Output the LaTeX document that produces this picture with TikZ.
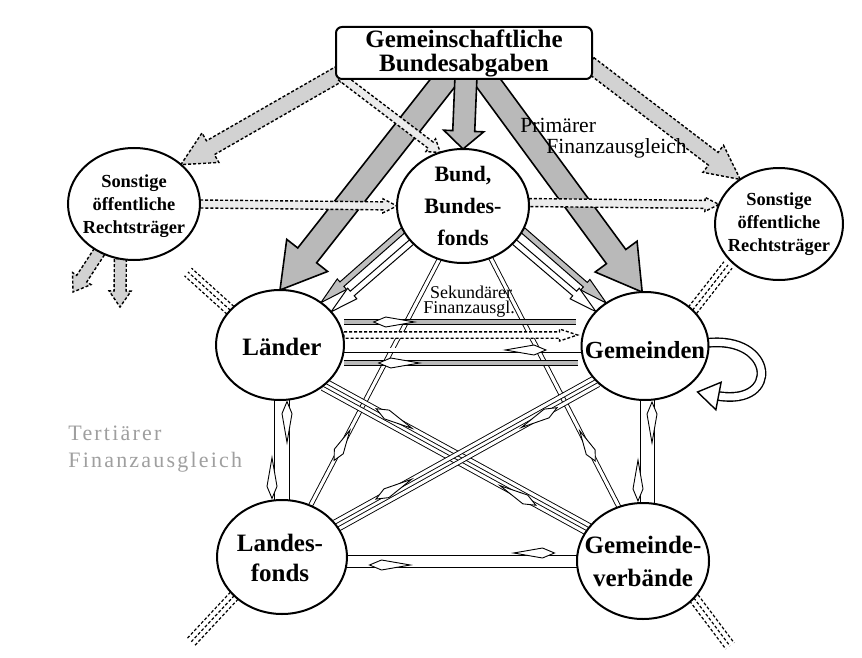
\documentclass[tikz,border=0pt]{standalone}
\usepackage{fontspec}
\setmainfont{Liberation Serif}
\newfontfamily\tertfont[LetterSpace=10]{Liberation Serif}
\usetikzlibrary{calc,shapes.geometric}
\pgfdeclarelayer{background}
\pgfsetlayers{background,main}

% broad arrow: [style]{from}{to}{half shaft}{half head}{head length}
\newcommand\fatarrow[6][]{%
  \coordinate (fa-h) at ($(#3)!#6!(#2)$);
  \draw[#1] ($(#2)!#4!90:(#3)$) -- ($(fa-h)!#4!90:(#3)$) -- ($(fa-h)!#5!90:(#3)$) -- (#3)
    -- ($(fa-h)!#5!-90:(#3)$) -- ($(fa-h)!#4!-90:(#3)$) -- ($(#2)!#4!-90:(#3)$) -- cycle;}
% marker on a line: [fill]{from}{to}{pos}{tip length}{half width}, pointing to "to"
\newcommand\spindle[6][white]{%
  \coordinate (sp-c) at ($(#2)!#4!(#3)$);
  \draw[fill=#1, line width=0.45pt] ($(sp-c)!#5!(#3)$) -- ($(sp-c)!#6!90:(#3)$)
    -- ($(sp-c)!2.4*#5!180:(#3)$) -- ($(sp-c)!#6!-90:(#3)$) -- cycle;}
% offset end points of a line
\newcommand\offpts[7]{%
  \coordinate (#6) at ($(#1)!#3!#4:(#2)$);
  \coordinate (#7) at ($(#2)!#3!#5:(#1)$);}
% three dashed parallel lines
\newcommand\tristub[2]{%
  \draw[stub] (#1) -- (#2);
  \draw[stub] ($(#1)!2.6pt!90:(#2)$) -- ($(#2)!2.6pt!-90:(#1)$);
  \draw[stub] ($(#1)!2.6pt!-90:(#2)$) -- ($(#2)!2.6pt!90:(#1)$);}

\begin{document}
\begin{tikzpicture}[x=0.5pt,y=-0.5pt,
  ell/.style={ellipse, draw, line width=1pt, fill=white, inner sep=0pt, outer sep=0pt},
  hollow/.style={draw=black, line width=0.45pt, double=white, double distance=1.6pt},
  graybar/.style={draw=black, line width=0.45pt, double=gray!55, double distance=2.2pt},
  primary/.style={draw=black, line width=0.8pt, fill=gray!55},
  dotarrow/.style={draw=black, line width=0.7pt, dash pattern=on 1.5pt off 1pt, fill=gray!35},
  smallarr/.style={draw=black, line width=0.5pt, fill=gray!50},
  stub/.style={draw=black, line width=0.6pt, dash pattern=on 1.5pt off 1pt},
  boldtext/.style={align=center, inner sep=0pt}
]
\useasboundingbox (0,0) rectangle (862,658);

% ---------- nodes ----------
\node[draw, line width=1pt, rounded corners=3pt, fill=white, minimum width=128pt,
      minimum height=26pt, inner sep=0pt, align=center,
      font=\bfseries\fontsize{12.5}{12}\selectfont] (top) at (464,53) {Gemeinschaftliche\\Bundesabgaben};

\node[ell, minimum width=66pt, minimum height=57pt] (bund) at (463,206) {};
\node[boldtext, font=\bfseries\fontsize{11}{16}\selectfont] (bund-t) at (463,206) {Bund,\\Bundes-\\fonds};

\node[ell, minimum width=66pt, minimum height=56pt] (sl) at (134,204) {};
\node[boldtext, font=\bfseries\fontsize{9.2}{11.5}\selectfont] (sl-t) at (134,206) {Sonstige\\öffentliche\\Rechtsträger};

\node[ell, minimum width=64pt, minimum height=56pt] (sr) at (779,224) {};
\node[boldtext, font=\bfseries\fontsize{9.2}{11.5}\selectfont] (sr-t) at (779,224) {Sonstige\\öffentliche\\Rechtsträger};

\node[ell, minimum width=64pt, minimum height=55pt] (laender) at (280,345) {};
\node[boldtext, font=\bfseries\fontsize{12.5}{15}\selectfont] (laender-t) at (282,347) {Länder};

\node[ell, minimum width=63.5pt, minimum height=54pt] (gemeinden) at (645,346) {};
\node[boldtext, font=\bfseries\fontsize{12.3}{15}\selectfont] (gemeinden-t) at (645,350) {Gemeinden};

\node[ell, minimum width=65pt, minimum height=57pt] (lf) at (282,557) {};
\node[boldtext, font=\bfseries\fontsize{12.5}{15}\selectfont] (lf-t) at (280,558) {Landes-\\fonds};

\node[ell, minimum width=66pt, minimum height=58pt] (gv) at (643,561) {};
\node[boldtext, font=\bfseries\fontsize{12.5}{16.5}\selectfont] (gv-t) at (643,561) {Gemeinde-\\verbände};

\node[anchor=west, inner sep=0pt, font=\fontsize{10.8}{12}\selectfont] (prim1) at (520,125) {Primärer};
\node[anchor=west, inner sep=0pt, font=\fontsize{10.8}{12}\selectfont] (prim2) at (546,148) {Finanzausgleich};
\node[inner sep=0pt, font=\fontsize{9}{9}\selectfont] (sek1) at (471,292) {Sekundärer};
\node[inner sep=0pt, font=\fontsize{9}{9}\selectfont] (sek2) at (469,309) {Finanzausgl.};
\node[anchor=west, inner sep=0pt, text=gray!75, font=\tertfont\fontsize{11}{12}\selectfont] (ter1) at (68,433) {Tertiärer};
\node[anchor=west, inner sep=0pt, text=gray!75, font=\tertfont\fontsize{11}{12}\selectfont] (ter2) at (68,462) {Finanzausgleich};

% ---------- connectors ----------
\begin{pgfonlayer}{background}
\fill[white] (0,0) rectangle (862,658);

% primary (broad gray arrows)
\coordinate (p-l) at ($(top.south)+(-8,-14)$);
\coordinate (p-r) at ($(top.south)+(12,-14)$);
\fatarrow[primary]{p-l}{laender.north}{6pt}{13pt}{22pt}
\fatarrow[primary]{p-r}{gemeinden.93}{6pt}{13pt}{22pt}
\coordinate (p-c) at ($(top.south)+(2,-4)$);
\fatarrow[primary]{p-c}{bund.north}{5.5pt}{10pt}{9pt}

% dotted arrows from the top box
\coordinate (d-l) at ($(top.south west)+(4,-6)$);
\fatarrow[dotarrow]{d-l}{sl.40}{4pt}{8.5pt}{17pt}
\coordinate (d-r) at ($(top.south east)+(-4,-16)$);
\fatarrow[dotarrow]{d-r}{sr.131}{4pt}{8.5pt}{17pt}
\coordinate (d-b) at ($(top.south west)+(6,-3)$);
\fatarrow[dotarrow, fill=gray!15]{d-b}{bund.113}{2pt}{4pt}{6pt}

% horizontal dotted arrows
\fatarrow[dotarrow, fill=gray!15]{sl.east}{bund.west}{2pt}{3.5pt}{7pt}
\fatarrow[dotarrow, fill=gray!15]{bund.3}{sr.162}{2pt}{3.5pt}{7pt}

% dotted arrows leaving the left ellipse
\coordinate (sd1) at (73,292);
\coordinate (sd2) at (120,307);
\fatarrow[dotarrow]{sl.234}{sd1}{3pt}{5.5pt}{8pt}
\fatarrow[dotarrow]{sl.256}{sd2}{3pt}{5.5pt}{8pt}

% dashed stubs (tertiary)
\coordinate (st1) at (188,272);
\tristub{laender.145}{st1}
\coordinate (st2) at (728,265);
\tristub{gemeinden.37}{st2}
\coordinate (st3) at (191,642);
\tristub{lf.219}{st3}
\coordinate (st4) at (730,646);
\tristub{gv.324}{st4}

% Bund -> Länder / Gemeinden
\fatarrow[smallarr]{bund.202}{laender.46}{1.5pt}{3.5pt}{14pt}
\fatarrow[smallarr, fill=white]{bund.215}{laender.33}{1.5pt}{3.5pt}{14pt}
\fatarrow[smallarr]{bund.338}{gemeinden.132}{1.5pt}{3.5pt}{14pt}
\fatarrow[smallarr, fill=white]{bund.325}{gemeinden.145}{1.5pt}{3.5pt}{14pt}

% Bund -> Landesfonds / Gemeindeverbände
\draw[hollow] (bund.246) -- (lf.61);
\spindle{bund.246}{lf.61}{0.78}{5pt}{2.5pt}
\draw[hollow] (bund.298) -- (gv.114);
\spindle{bund.298}{gv.114}{0.78}{5pt}{2.5pt}

% Länder <-> Gemeinden
\coordinate (h1a) at ($(laender.east)+(0,-23)$);
\coordinate (h1b) at ($(gemeinden.west)+(-6,-24)$);
\draw[graybar] (h1a) -- (h1b);
\spindle{h1b}{h1a}{0.82}{6pt}{2.5pt}
\coordinate (h2a) at ($(laender.east)+(0,-10)$);
\coordinate (h2b) at ($(gemeinden.west)+(-4,-11)$);
\fatarrow[dotarrow, fill=white]{h2a}{h2b}{1.6pt}{3pt}{9pt}
\coordinate (h3a) at ($(laender.east)+(0,5)$);
\coordinate (h3b) at ($(gemeinden.west)+(0,4)$);
\draw[hollow] (h3a) -- (h3b);
\spindle{h3a}{h3b}{0.8}{6pt}{2.5pt}
\coordinate (h4a) at ($(laender.east)+(0,18)$);
\coordinate (h4b) at ($(gemeinden.west)+(-4,17)$);
\draw[graybar] (h4a) -- (h4b);
\spindle{h4b}{h4a}{0.8}{6pt}{2.5pt}

% Länder <-> Landesfonds
\coordinate (v1a) at ($(laender.south)+(-8,-2)$);
\coordinate (v1b) at ($(lf.north)+(-10,2)$);
\draw[hollow] (v1a) -- (v1b);
\spindle{v1a}{v1b}{0.85}{6pt}{2.5pt}
\coordinate (v2a) at ($(laender.south)+(7,-2)$);
\coordinate (v2b) at ($(lf.north)+(5,2)$);
\draw[hollow] (v2a) -- (v2b);
\spindle{v2b}{v2a}{0.85}{6pt}{2.5pt}

% Gemeinden <-> Gemeindeverbände
\coordinate (v3a) at ($(gemeinden.south)+(-7,-2)$);
\coordinate (v3b) at ($(gv.north)+(-5,2)$);
\draw[hollow] (v3a) -- (v3b);
\spindle{v3a}{v3b}{0.85}{6pt}{2.5pt}
\coordinate (v4a) at ($(gemeinden.south)+(7,-2)$);
\coordinate (v4b) at ($(gv.north)+(9,2)$);
\draw[hollow] (v4a) -- (v4b);
\spindle{v4b}{v4a}{0.85}{6pt}{2.5pt}

% crossing bands
\offpts{laender.318}{gv.150}{2pt}{90}{-90}{c1a}{c1b}
\offpts{laender.318}{gv.150}{2pt}{-90}{90}{c2a}{c2b}
\draw[hollow] (c1a) -- (c1b);
\draw[hollow] (c2a) -- (c2b);
\spindle{c1b}{c1a}{0.77}{6pt}{2.5pt}
\spindle{c2a}{c2b}{0.77}{6pt}{2.5pt}
\offpts{gemeinden.216}{lf.30}{2pt}{90}{-90}{c3a}{c3b}
\offpts{gemeinden.216}{lf.30}{2pt}{-90}{90}{c4a}{c4b}
\draw[hollow] (c3a) -- (c3b);
\draw[hollow] (c4a) -- (c4b);
\spindle{c3b}{c3a}{0.8}{6pt}{2.5pt}
\spindle{c4a}{c4b}{0.8}{6pt}{2.5pt}

% Landesfonds <-> Gemeindeverbände
\coordinate (g1a) at ($(lf.east)+(0,-4)$);
\coordinate (g1b) at ($(gv.west)+(0,-8)$);
\draw[hollow] (g1a) -- (g1b);
\spindle{g1a}{g1b}{0.85}{6pt}{2.5pt}
\coordinate (g2a) at ($(lf.east)+(0,8)$);
\coordinate (g2b) at ($(gv.west)+(0,4)$);
\draw[hollow] (g2a) -- (g2b);
\spindle{g2b}{g2a}{0.85}{6pt}{2.5pt}

% loop at Gemeinden
\coordinate (la) at ($(gemeinden.east)+(-2,-3)$);
\coordinate (le) at ($(gemeinden.east)+(10,50)$);
\coordinate (lt) at ($(le)+(-21,-4)$);
\draw[draw=black, line width=0.7pt, double=white, double distance=3.5pt]
  (la) .. controls ($(la)+(68,-8)$) and ($(le)+(62,10)$) .. (le);
\draw[fill=white, line width=0.7pt] ($(le)!7pt!90:(lt)$) -- (lt) -- ($(le)!7pt!-90:(lt)$) -- cycle;
\end{pgfonlayer}
\end{tikzpicture}
\end{document}
